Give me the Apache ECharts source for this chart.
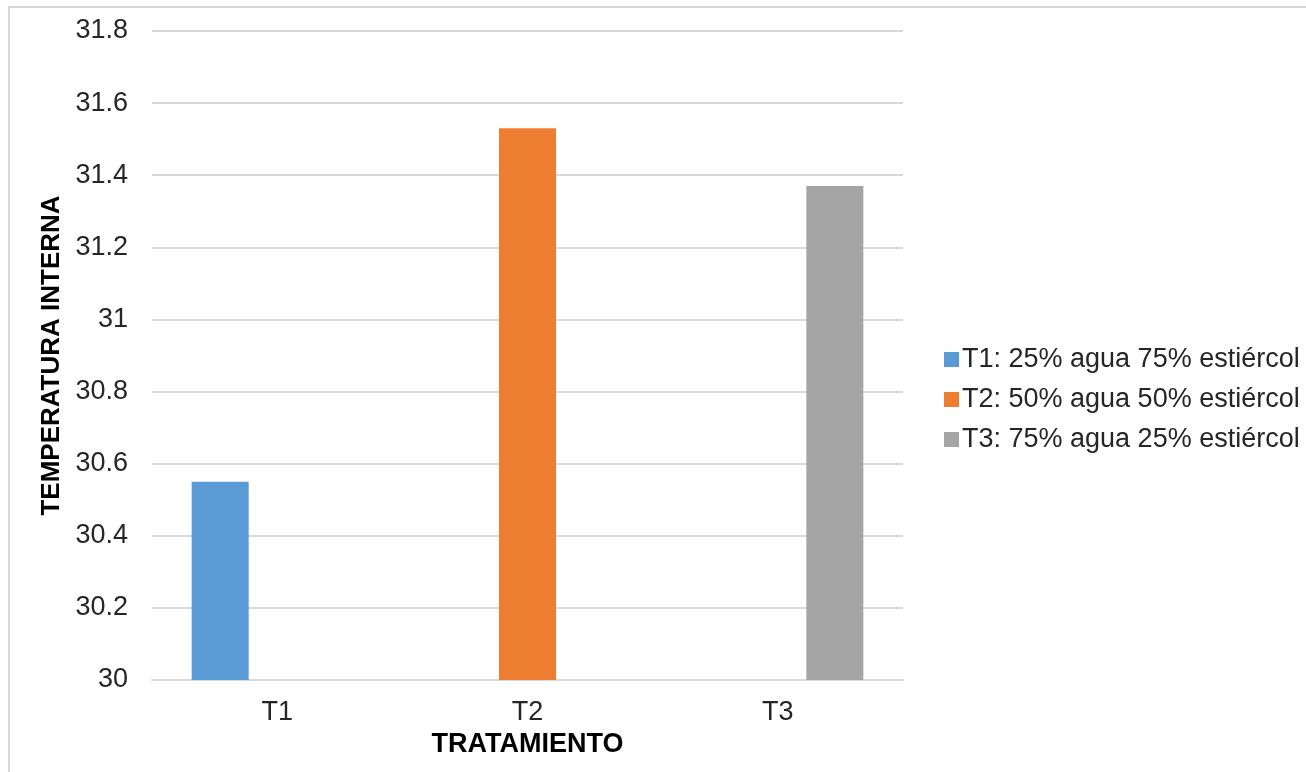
<!DOCTYPE html>
<html>
<head>
<meta charset="utf-8">
<title>Temperatura interna por tratamiento</title>
<script src="https://cdn.jsdelivr.net/npm/echarts@6/dist/echarts.min.js"></script>
<style>
  html, body { margin: 0; padding: 0; background: #ffffff; }
  #chart { width: 1306px; height: 772px; }
</style>
</head>
<body>
<div id="chart"></div>
<script>
// Treatments on the category axis
const categories = ['T1', 'T2', 'T3'];

// Legend names for each treatment
const seriesNames = [
  'T1: 25% agua 75% estiércol',
  'T2: 50% agua 50% estiércol',
  'T3: 75% agua 25% estiércol'
];

// Mean internal temperature per treatment (each series only fills its own category)
const t1Values = [30.55, null, null];
const t2Values = [null, 31.53, null];
const t3Values = [null, null, 31.37];

const seriesColors = ['#5b9bd5', '#ed7d31', '#a5a5a5'];

const FONT = '"Liberation Sans", Arial, sans-serif';
const TEXT = '#262626';

const chart = echarts.init(document.getElementById('chart'), null, { renderer: 'canvas' });

const valueSets = [t1Values, t2Values, t3Values];

chart.setOption({
  backgroundColor: '#ffffff',
  animation: false,
  graphic: [{
    type: 'rect',
    shape: { x: 9, y: 7, width: 1320, height: 800 },
    style: { fill: 'none', stroke: '#d9d9d9', lineWidth: 2 },
    silent: true
  }],
  grid: { left: 152, right: 403, top: 31, bottom: 92 },
  legend: {
    orient: 'vertical',
    left: 939,
    top: 341,
    itemWidth: 15,
    itemHeight: 15,
    itemGap: 13,
    icon: 'rect',
    textStyle: { fontFamily: FONT, fontSize: 27, color: TEXT, padding: [0, 0, 0, -2] },
    data: seriesNames
  },
  xAxis: {
    type: 'category',
    data: categories,
    name: 'TRATAMIENTO',
    nameLocation: 'middle',
    nameGap: 50,
    nameTextStyle: { fontFamily: FONT, fontSize: 27, fontWeight: 'bold', color: '#000' },
    axisLine: { show: true, lineStyle: { color: '#d9d9d9', width: 2 } },
    axisTick: { show: false },
    axisLabel: { fontFamily: FONT, fontSize: 27, color: TEXT, margin: 19 }
  },
  yAxis: {
    type: 'value',
    min: 30,
    max: 31.8,
    interval: 0.2,
    name: 'TEMPERATURA INTERNA',
    nameLocation: 'middle',
    nameRotate: 90,
    nameGap: 84,
    nameTextStyle: { fontFamily: FONT, fontSize: 26, fontWeight: 'bold', color: '#000' },
    axisLine: { show: false },
    axisTick: { show: false },
    splitLine: { show: true, lineStyle: { color: '#d9d9d9', width: 2 } },
    axisLabel: {
      fontFamily: FONT, fontSize: 27, color: TEXT, margin: 24,
      formatter: v => String(Math.round(v * 10) / 10)
    }
  },
  series: seriesNames.map((name, i) => ({
    name: name,
    type: 'bar',
    data: valueSets[i],
    barWidth: 57,
    barGap: '0%',
    itemStyle: { color: seriesColors[i] }
  }))
});
</script>
</body>
</html>
